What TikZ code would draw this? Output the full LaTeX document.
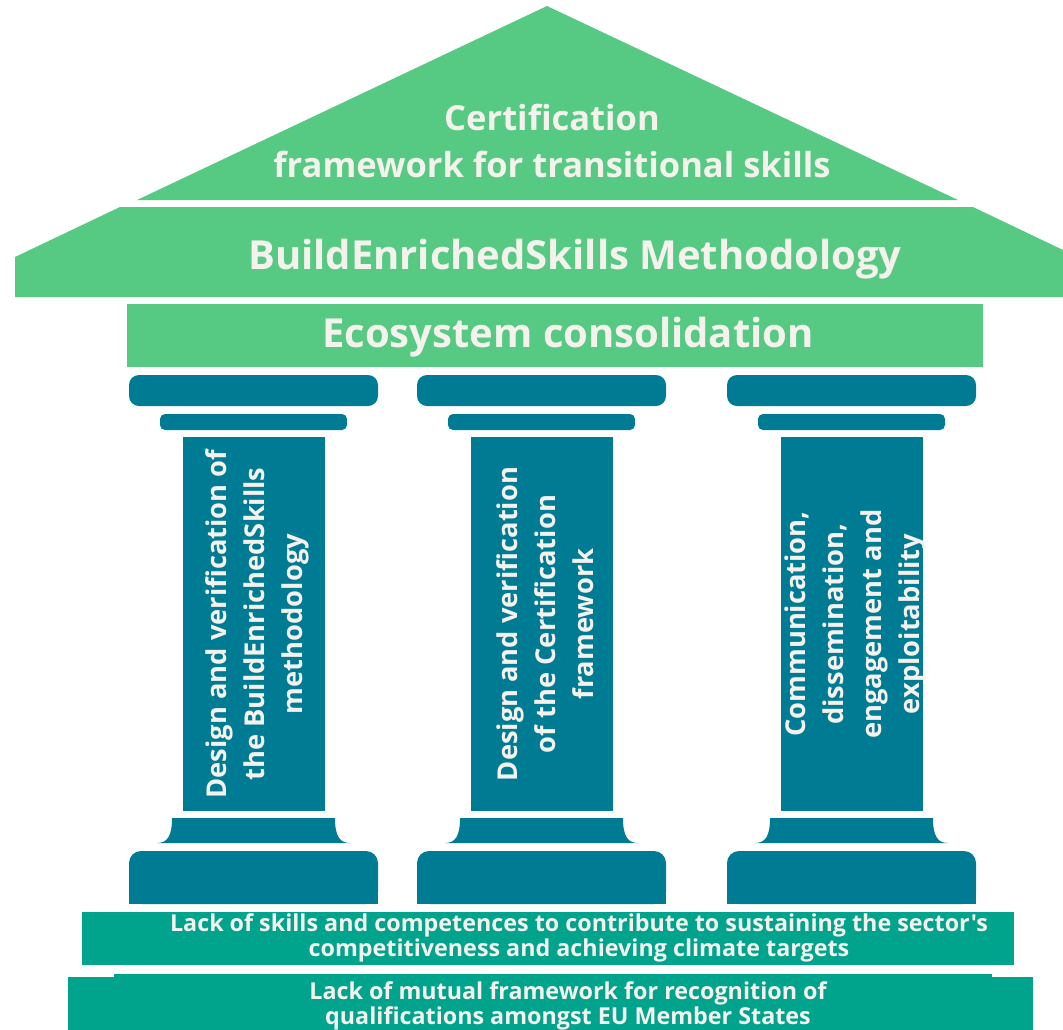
\documentclass[tikz,border=0pt]{standalone}
\usepackage{fontspec}
\setmainfont{Open Sans}[Ligatures=TeXOff]
\usepackage{tikz}
\usetikzlibrary{positioning}
\definecolor{roofgreen}{HTML}{56C983}
\definecolor{pillarblue}{HTML}{007B94}
\definecolor{groundteal}{HTML}{00A38B}
\definecolor{offwhite}{HTML}{F5F2EE}
\tikzstyle{roof}=[fill=roofgreen]
\tikzstyle{stone}=[fill=pillarblue]
\tikzstyle{ground}=[fill=groundteal,inner sep=0pt,anchor=north west]
\tikzstyle{whitetext}=[text=offwhite,align=center,inner sep=0pt]
\tikzstyle{shaft}=[stone,inner sep=0pt,minimum width=142pt,minimum height=374pt]
\tikzstyle{pillar text}=[whitetext,rotate=90,font=\bfseries\fontsize{27.3}{38}\selectfont]
\tikzstyle{problem}=[whitetext,font=\bfseries\fontsize{23.3}{24.5}\selectfont]

\begin{document}
\begin{tikzpicture}[x=1pt,y=-1pt]
   \useasboundingbox (0,0) rectangle (1063,1029);
   \fill[roof] (137,200) -- (547,6) -- (958,200) -- cycle;
   \node[whitetext,font=\bfseries\fontsize{34.5}{47}\selectfont] (certif) at (552,141) {Certification\\framework for transitional skills};
   \fill[roof] (120,207) -- (973,207) -- (1063,250) -- (1063,297) -- (15,297) -- (15,257) -- cycle;
   \node[whitetext,font=\bfseries\fontsize{40}{44}\selectfont] (method) at (575,259) {BuildEnrichedSkills Methodology};
   \node[roof,inner sep=0pt,anchor=north west,minimum width=856pt,minimum height=63pt] (ecobar) at (127,304) {};
   \node[whitetext,font=\bfseries\fontsize{40}{44}\selectfont] (eco) at (568,337) {Ecosystem consolidation};
   \foreach \c/\name/\txt in {253.5/wpone/{Design and verification of\\the BuildEnrichedSkills\\methodology},
        541.5/wptwo/{Design and verification\\of the Certification\\framework},
        851.5/wpthree/{Communication,\\dissemination,\\engagement and\\exploitability}}
   {
        \fill[stone,rounded corners=10pt] (\c-124.5,375) rectangle (\c+124.5,406);
        \fill[stone,rounded corners=5pt] (\c-93.5,414) rectangle (\c+93.5,430);
        \node[shaft] (\name) at (\c,624) {};
        \node[pillar text] (\name text) at ([xshift=4pt]\name.center) {\txt};
        \fill[stone] (\c-81.5,818) -- (\c+81.5,818) .. controls (\c+81.5,836) and (\c+86,843) .. (\c+96.5,843)
            -- (\c-96.5,843) .. controls (\c-86,843) and (\c-81.5,836) .. (\c-81.5,818) -- cycle;
        \fill[stone,rounded corners=12pt] (\c-124.5,851) rectangle (\c+124.5,904);
        \fill[stone] (\c-124.5,880) rectangle (\c+124.5,904);
   }
   \node[ground,minimum width=932pt,minimum height=53pt] (skillsbar) at (82,912) {};
   \node[problem] (skills) at (579,938) {Lack of skills and competences to contribute to sustaining the sector's\\competitiveness and achieving climate targets};
   \node[ground,minimum width=965pt,minimum height=60pt] (mutualbar) at (68,977) {};
   \fill[groundteal] (114,974) rectangle (992,977);
   \node[problem] (mutual) at (568,1006) {Lack of mutual framework for recognition of\\qualifications amongst EU Member States};
\end{tikzpicture}
\end{document}
